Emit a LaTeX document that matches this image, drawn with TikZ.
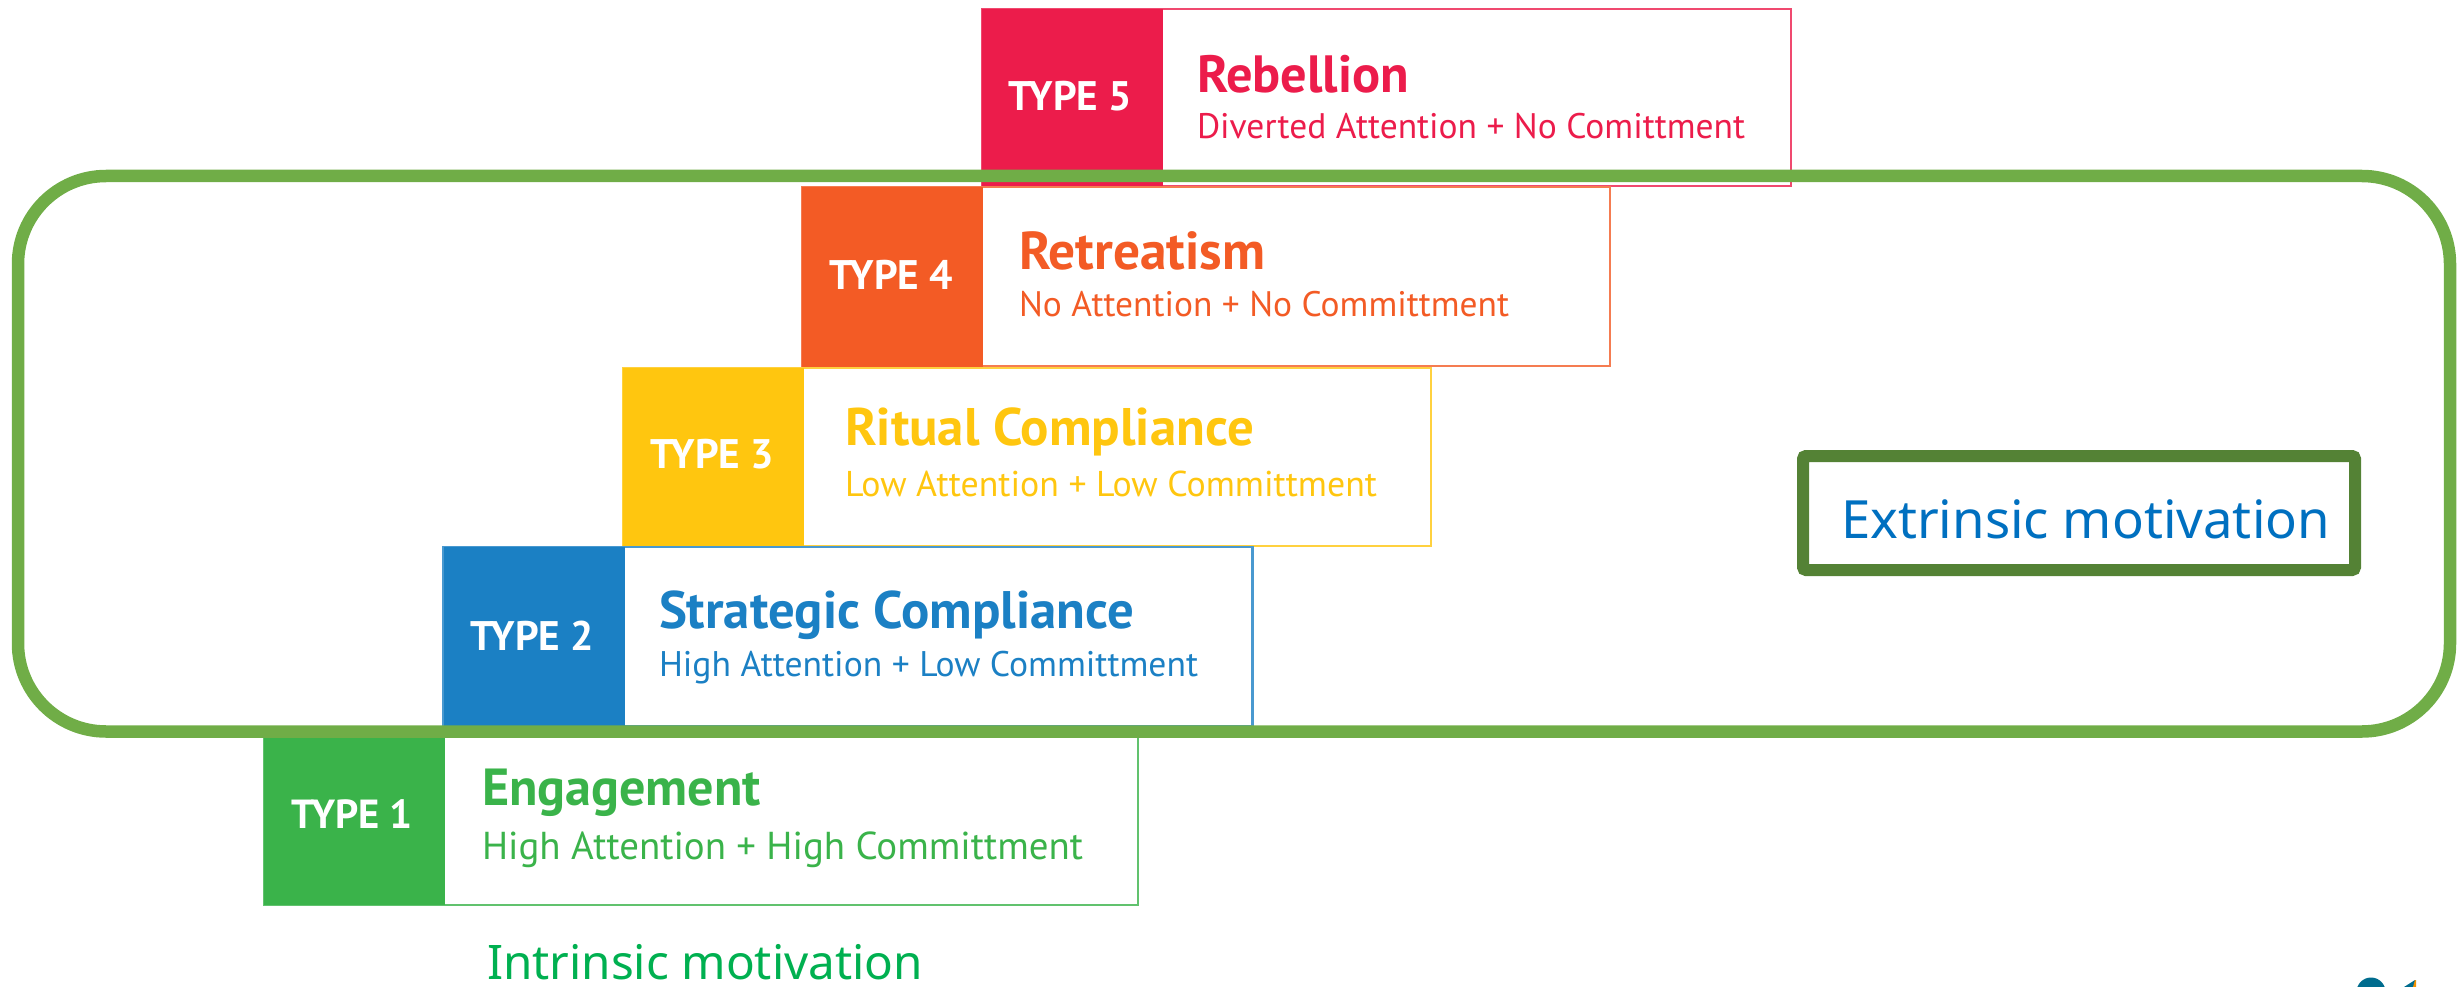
\documentclass[tikz,border=0pt]{standalone}
\usepackage{fontspec}
\usepackage{graphicx}
\setmainfont{PT Sans}
\newfontfamily\tahomalike{Noto Sans}
\definecolor{cpink}{HTML}{EC1C4B}
\definecolor{corange}{HTML}{F35B25}
\definecolor{cyellow}{HTML}{FFC60F}
\definecolor{cblue}{HTML}{1B80C4}
\definecolor{cgreen}{HTML}{3AB34A}
\definecolor{framegreen}{HTML}{70AD47}
\definecolor{darkframe}{HTML}{548235}
\definecolor{extblue}{HTML}{0070C0}
\definecolor{intgreen}{HTML}{00B050}
\definecolor{logoteal}{HTML}{006C8E}
\definecolor{logoorange}{HTML}{F39200}
\tikzset{
  x=1pt,y=-1pt,
  outerbox/.style={draw=#1!80!white,line width=2.4pt,fill=white,rectangle,anchor=north west,inner sep=0pt,outer sep=0pt},
  tagbox/.style={fill=#1,rectangle,anchor=north west,inner sep=0pt,outer sep=0pt,minimum width=181pt},
  lab/.style={anchor=base west,inner sep=0pt,outer sep=0pt},
  tagtext/.style={lab,text=white,font=\bfseries\fontsize{36}{36}\selectfont},
  headtext/.style={lab,text=#1,font=\bfseries\fontsize{44}{44}\selectfont},
  subtext/.style={lab,text=#1,font=\fontsize{31}{31}\selectfont},
  motiv/.style={lab,text=#1,font=\tahomalike\fontsize{50}{50}\selectfont},
}
\newcommand{\fitw}[2]{\resizebox{#1pt}{!}{#2}}
\begin{document}
\begin{tikzpicture}
\useasboundingbox (0,0) rectangle (2458,987);
% type 5
\node[outerbox=cpink,minimum width=809pt,minimum height=177pt] (b5) at (982,9) {};
\node[tagbox=cpink,minimum height=178pt] (t5) at (982,9) {};
\node[tagtext] (tt5) at (1008,111) {\fitw{124}{TYPE 5}};
\node[headtext=cpink] (h5) at (1197,93) {\fitw{212}{Rebellion}};
\node[subtext=cpink] (s5) at (1197,139) {\fitw{548}{Diverted Attention + No Comittment}};
% type 4
\node[outerbox=corange,minimum width=808pt,minimum height=179pt] (b4) at (802,187) {};
\node[tagbox=corange,minimum height=180pt] (t4) at (802,187) {};
\node[tagtext] (tt4) at (829,289) {\fitw{124}{TYPE 4}};
\node[headtext=corange] (h4) at (1019,269) {\fitw{246}{Retreatism}};
\node[subtext=corange] (s4) at (1019,316) {\fitw{490}{No Attention + No Committment}};
% type 3
\node[outerbox=cyellow,minimum width=808pt,minimum height=178pt] (b3) at (623,368) {};
\node[tagbox=cyellow,minimum height=179pt] (t3) at (623,368) {};
\node[tagtext] (tt3) at (650,468) {\fitw{124}{TYPE 3}};
\node[headtext=cyellow] (h3) at (845,445) {\fitw{409}{Ritual Compliance}};
\node[subtext=cyellow] (s3) at (845,496) {\fitw{532}{Low Attention + Low Committment}};
% type 2
\node[outerbox=cblue,minimum width=809pt,minimum height=179pt] (b2) at (443.5,547) {};
\node[tagbox=cblue,minimum height=180pt] (t2) at (443.5,547) {};
\node[tagtext] (tt2) at (470,650) {\fitw{124}{TYPE 2}};
\node[headtext=cblue] (h2) at (659,628) {\fitw{475}{Strategic Compliance}};
\node[subtext=cblue] (s2) at (659,676) {\fitw{539}{High Attention + Low Committment}};
% type 1
\node[outerbox=cgreen,minimum width=874pt,minimum height=178pt] (b1) at (264,727) {};
\node[tagbox=cgreen,minimum height=178pt] (t1) at (264,727) {};
\node[tagtext] (tt1) at (291,828) {\fitw{122}{TYPE 1}};
\node[headtext=cgreen] (h1) at (482,805) {\fitw{279}{Engagement}};
\node[subtext=cgreen] (s1) at (482,859) {\fitw{601}{High Attention + High Committment}};
% frame
\draw[framegreen,line width=12.5pt,rounded corners=88pt] (18,176) rectangle (2450,731.5);
% labels
\node[draw=darkframe,line width=12pt,fill=white,rectangle,rounded corners=3pt,anchor=north west,inner sep=0pt,outer sep=0pt,minimum width=552pt,minimum height=114pt] (ext) at (1803,456) {};
\node[motiv=extblue] (et) at (1841,538) {\fitw{489}{Extrinsic motivation}};
\node[motiv=intgreen] (it) at (487,979) {\fitw{436}{Intrinsic motivation}};
% logo fragment
\fill[logoteal] (2371,992) circle (14.5);
\fill[logoteal] (2404,987) -- (2415,980) -- (2415,987) -- cycle;
\fill[logoorange] (2413,987) -- (2415,980) -- (2416,980) -- (2416,987) -- cycle;
\end{tikzpicture}
\end{document}
